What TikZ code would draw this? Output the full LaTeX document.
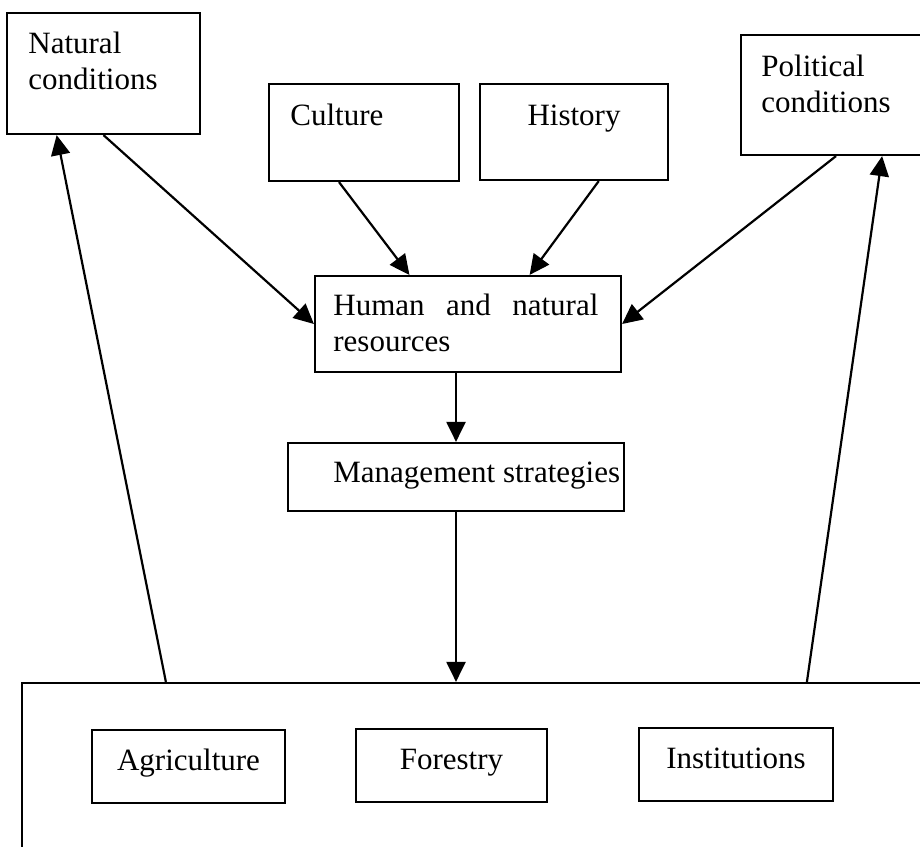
\documentclass[tikz,border=0pt]{standalone}
\usepackage{fontspec}
\setmainfont{Liberation Serif}
\usetikzlibrary{calc, arrows.meta}

\begin{document}
\begin{tikzpicture}[
    x=0.5pt, y=-0.5pt, % one unit = one pixel of the original figure, y downwards
    >={Triangle[length=10pt, width=9.5pt]}, % filled triangle tips
    box/.style 2 args={draw, line width=1.1pt, inner sep=0pt,
      minimum width=#1*0.5pt, minimum height=#2*0.5pt}, % box of #1 x #2 pixels
    boxtext/.style={font=\fontsize{15.5}{18}\selectfont, inner sep=0pt, align=left}, % text in the boxes
    smallbox/.style={boxtext, text height=10pt, text depth=6.5pt}, % one-line boxes at the bottom
    link/.style={->, line width=1.1pt} % arrows between the boxes
  ]

  % --- Frame ---
  \useasboundingbox (0,0) rectangle (920,846);
  \clip (0,0) rectangle (920,846); % right and bottom boxes run off the page

  % --- Top row (base of two-line texts is the last line) ---
  \node[box={193}{121}] (nat) at (103.5,73.5) {};
  \node[boxtext, anchor=base west] (nat-txt) at (28,89) {Natural\\conditions};
  \node[box={190}{97}] (cul) at (364,132.5) {};
  \node[boxtext, anchor=base west] (cul-txt) at (290,125) {Culture};
  \node[box={188}{96}] (his) at (574,132) {};
  \node[boxtext, anchor=base] (his-txt) at (574,125) {History};
  \node[box={190}{120}] (pol) at (836,95) {};
  \node[boxtext, anchor=base west] (pol-txt) at (761,112) {Political\\conditions};

  % --- Middle (text width: base is the first line) ---
  \node[box={306}{96}] (hum) at (468,324) {};
  \node[boxtext, anchor=base west, text width=132.5pt] (hum-txt) at (333,315)
    {Human\hfill and\hfill natural\\resources};
  \node[box={336}{68}] (man) at (456,477) {};
  \node[boxtext, anchor=base west] (man-txt) at (333,482) {Management strategies};

  % --- Bottom: land use ---
  \node[box={918}{187}] (land) at (481,776.5) {};
  \node[box={193}{73}, smallbox] (agr) at (188.5,766.5) {Agriculture};
  \node[box={191}{73}, smallbox] (for) at (451.5,765.5) {Forestry};
  \node[box={194}{73}, smallbox] (ins) at (736,764.5) {Institutions};

  % --- Arrow ends on the box edges ---
  \coordinate (cul-out) at ($(cul.south west)!0.37!(cul.south east)$);
  \coordinate (his-out) at ($(his.south west)!0.63!(his.south east)$);
  \coordinate (hum-in-l) at ($(hum.north west)!0.31!(hum.north east)$);
  \coordinate (hum-in-r) at ($(hum.north west)!0.70!(hum.north east)$);
  \coordinate (land-out-l) at ($(land.north west)+(145,0)$);
  \coordinate (land-out-r) at ($(land.north west)+(786,0)$);
  \coordinate (nat-in) at ($(nat.south west)!0.26!(nat.south east)$);
  \coordinate (pol-in) at ($(pol.south west)!0.74!(pol.south east)$);

  % --- Arrows ---
  \draw[link] (nat.south) -- (hum.west);
  \draw[link] (cul-out) -- (hum-in-l);
  \draw[link] (his-out) -- (hum-in-r);
  \draw[link] (pol.south) -- (hum.east);
  \draw[link] (hum.south -| man.north) -- (man.north);
  \draw[link] (man.south) -- (man.south |- land.north);
  \draw[link] (land-out-l) -- (nat-in); % feedback to natural conditions
  \draw[link] (land-out-r) -- (pol-in); % feedback to political conditions

\end{tikzpicture}
\end{document}
